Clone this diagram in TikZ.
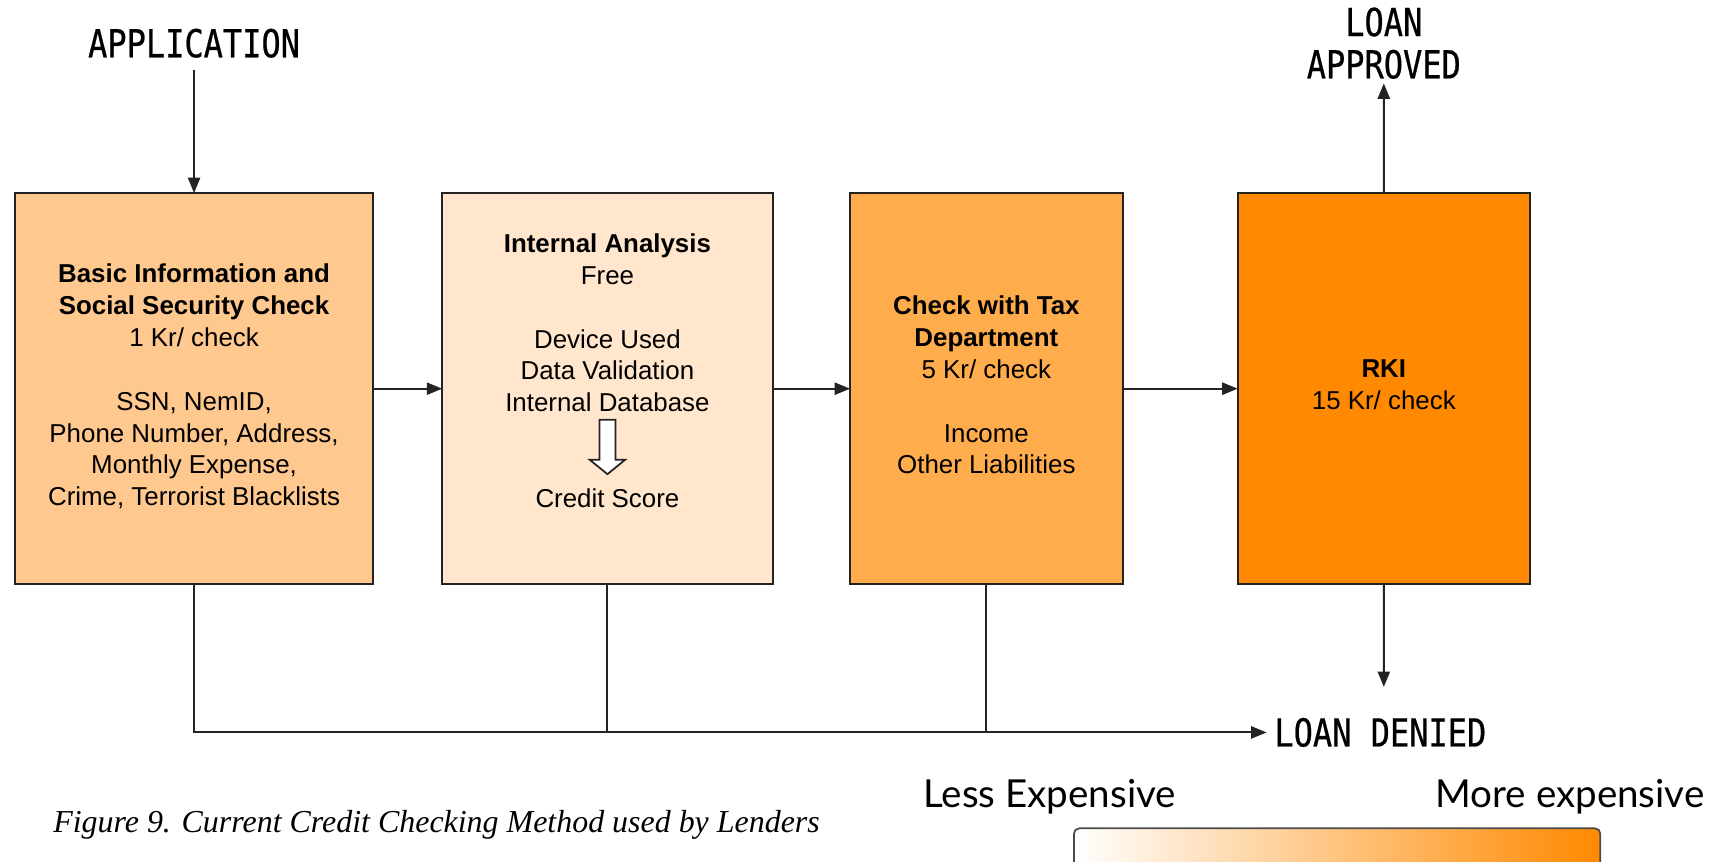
\documentclass[tikz,border=0pt]{standalone}
\usepackage{fontspec}
\setmainfont{Liberation Sans}
\newfontfamily\labelfont[FakeStretch=0.83,FakeBold=0.6]{DejaVu Sans Mono}
\newfontfamily\scalefont{Lato}
\newfontfamily\captionfont{Liberation Serif}
\usetikzlibrary{positioning,arrows.meta}
\definecolor{basicfill}{RGB}{254,200,142}
\definecolor{internalfill}{RGB}{255,230,204}
\definecolor{taxfill}{RGB}{255,172,77}
\definecolor{rkifill}{RGB}{255,137,0}
\definecolor{edgegray}{RGB}{35,35,35}
\begin{document}
\begin{tikzpicture}[
        x=0.5pt, y=-0.5pt,
        check/.style={draw=edgegray, line width=0.9pt, minimum height=177.6pt,
          inner sep=0pt, outer sep=0pt, align=center,
          font=\fontsize{11.75}{14.45}\selectfont},
        outcome/.style={align=center, font=\labelfont\fontsize{17.5}{19.2}\selectfont},
        scaletext/.style={inner sep=0pt, font=\scalefont\fontsize{17.5}{20}\selectfont},
        flow/.style={draw=edgegray, line width=0.9pt, -{Triangle[length=7pt,width=5.5pt]}},
        link/.style={draw=edgegray, line width=0.9pt}
      ]
      \clip (0,0) rectangle (1568,782);
      \node[check, fill=basicfill, minimum width=162.5pt] (basic) at (176.2,352.9)
        {\textbf{Basic Information and}\\ \textbf{Social Security Check}\\ 1 Kr/ check\\[14.45pt]
         SSN, NemID,\\ Phone Number, Address,\\ Monthly Expense,\\ Crime, Terrorist Blacklists\\[-11pt]\mbox{}};
      \node[check, fill=internalfill, minimum width=150pt, right=31.4pt of basic] (internal)
        {\textbf{Internal Analysis}\\ Free\\[14.45pt]
         Device Used\\ Data Validation\\ Internal Database\\[28.9pt]
         Credit Score\\[2pt] \mbox{}};
      \node[check, fill=taxfill, minimum width=123.75pt, right=35.15pt of internal] (tax)
        {\textbf{Check with Tax}\\ \textbf{Department}\\ 5 Kr/ check\\[14.45pt]
         Income\\ Other Liabilities\\[-11pt]\mbox{}};
      \node[check, fill=rkifill, minimum width=132.7pt, right=52.2pt of tax] (rki)
        {\textbf{RKI}\\ 15 Kr/ check\\[-11pt]\mbox{}};
      \draw[line width=0.8pt, draw=edgegray, fill=white]
        (544.3,381) -- (558.8,381) -- (558.8,417.5) -- (567.5,417.5)
        -- (551.5,430.5) -- (535.5,417.5) -- (544.3,417.5) -- cycle;
      \node[outcome, anchor=base] (application) at (176.2,52) {APPLICATION};
      \node[outcome, anchor=south] (approved) at (1256.4,78.7) {LOAN\\ APPROVED};
      \node[outcome, anchor=west] (denied) at (1150,665) {LOAN DENIED};
      \coordinate (rkiend) at (1256.4,623.7);
      \draw[flow, shorten <=2pt] (application) -- (basic);
      \draw[flow] (basic) -- (internal);
      \draw[flow] (internal) -- (tax);
      \draw[flow] (tax) -- (rki);
      \draw[flow, shorten >=-1.5pt] (rki) -- (approved);
      \draw[flow] (rki) -- (rkiend);
      \draw[flow] (basic.south) |- (denied.west);
      \draw[link] (internal.south) -- (internal.south |- denied.west);
      \draw[link] (tax.south) -- (tax.south |- denied.west);
      \node[scaletext, anchor=base west] (cheap) at (838,733) {Less Expensive};
      \node[scaletext, anchor=base east] (dear) at (1548,733) {More expensive};
      \draw[draw=gray!60!black, line width=0.8pt, rounded corners=2.5pt,
        left color=white, right color=rkifill] (975,752) rectangle (1453,800);
      \node[anchor=base west, inner sep=0pt, font=\captionfont\itshape\fontsize{14.5}{17}\selectfont]
        (caption) at (48,756) {Figure 9. Current Credit Checking Method used by Lenders};
\end{tikzpicture}
\end{document}
